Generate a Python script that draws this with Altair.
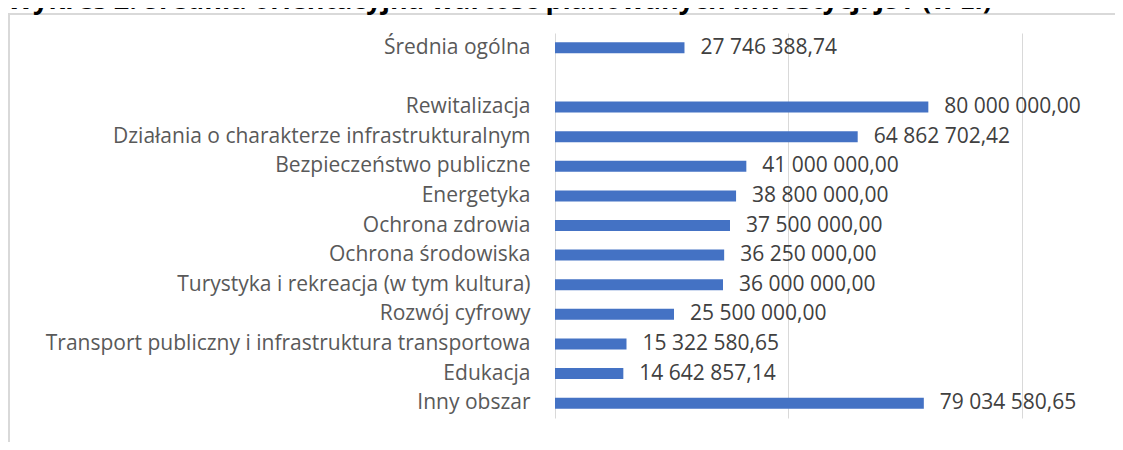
import altair as alt
import pandas as pd

categories = [
    "Średnia ogólna",
    " ",
    "Rewitalizacja",
    "Działania o charakterze infrastrukturalnym",
    "Bezpieczeństwo publiczne",
    "Energetyka",
    "Ochrona zdrowia ",
    "Ochrona środowiska",
    "Turystyka i rekreacja (w tym kultura)",
    "Rozwój cyfrowy",
    "Transport publiczny i infrastruktura transportowa",
    "Edukacja",
    "Inny obszar",
]
values = [
    27746388.74,
    None,
    80000000.00,
    64862702.42,
    41000000.00,
    38800000.00,
    37500000.00,
    36250000.00,
    36000000.00,
    25500000.00,
    15322580.65,
    14642857.14,
    79034580.65,
]
axis_ticks = [0, 50000000, 100000000]
title_text = "Wykres 2. Średnia orientacyjna wartość planowanych inwestycji JST (w zł)"


def pl_format(v):
    if v is None:
        return ""
    s = f"{v:,.2f}"
    return s.replace(",", " ").replace(".", ",")


df = pd.DataFrame({
    "kategoria": categories,
    "wartosc": values,
    "etykieta": [pl_format(v) for v in values],
})
title_df = pd.DataFrame({"tytul": [title_text]})

W, H = 560, 385
FONT = "Open Sans"
FS = 21

y_scale = alt.Scale(domain=categories)
y_enc = alt.Y(
    "kategoria:N",
    scale=y_scale,
    title=None,
    axis=alt.Axis(
        domain=False, ticks=False, labelPadding=25, labelFontSize=FS,
        labelFont=FONT, labelColor="#595959", labelLimit=600,
    ),
)
x_enc = alt.X(
    "wartosc:Q",
    scale=alt.Scale(domain=[0, 120000000], nice=False),
    title=None,
    axis=alt.Axis(
        values=axis_ticks, labels=False, ticks=False, domain=False,
        grid=True, gridColor="#d9d9d9", gridWidth=1,
    ),
)

bars = alt.Chart(df).mark_bar(color="#4472C4", size=11).encode(
    x=x_enc, y=y_enc
).transform_filter("datum.wartosc != null")

labels = alt.Chart(df).mark_text(
    align="left", baseline="middle", dx=16, fontSize=FS, font=FONT, color="#404040"
).encode(
    x="wartosc:Q", y=alt.Y("kategoria:N", scale=y_scale), text="etykieta:N"
).transform_filter("datum.wartosc != null")

border = alt.Chart(df).mark_rect(
    fill=None, stroke="#d9d9d9", strokeWidth=1.5
).encode(
    x=alt.value(-546), x2=alt.value(W + 40),
    y=alt.value(-19), y2=alt.value(H + 80),
)

title_mark = alt.Chart(title_df).mark_text(
    align="left", baseline="alphabetic", font=FONT, fontSize=27,
    fontWeight="bold", color="#000000",
).encode(
    x=alt.value(-548), y=alt.value(-24), text="tytul:N"
)

chart = alt.layer(border, bars, labels, title_mark).properties(
    width=W, height=H,
    autosize=alt.AutoSizeParams(type="none"),
    padding={"left": 547, "top": 25, "right": 0, "bottom": 24},
).configure_view(stroke=None)

chart.save("out.html", embed_options={"renderer": "svg", "actions": False})
